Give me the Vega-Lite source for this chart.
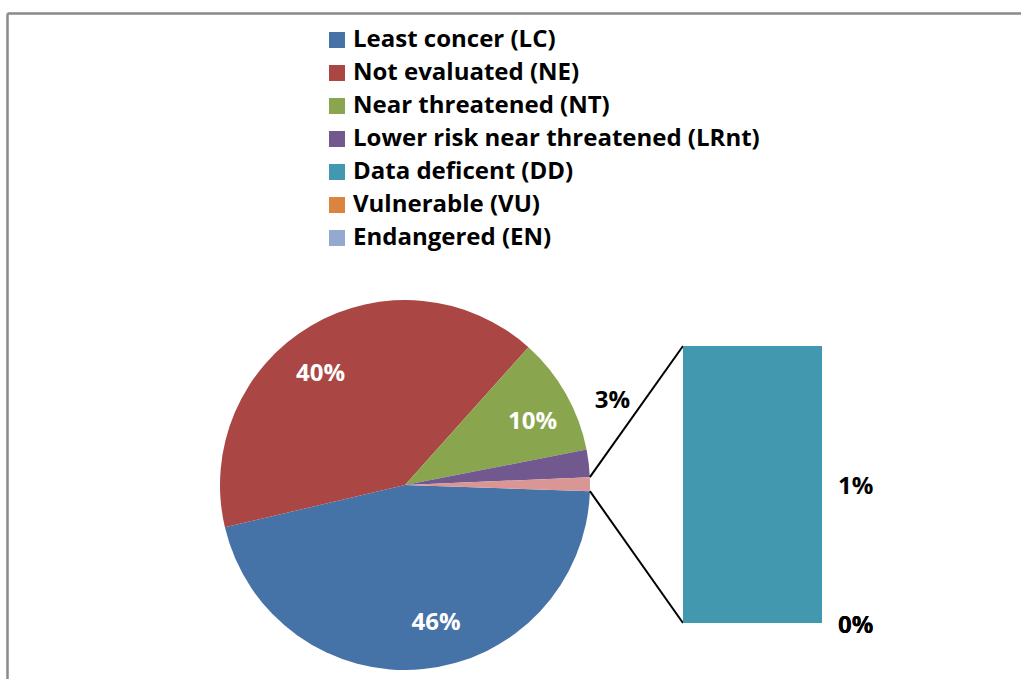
{
  "$schema": "https://vega.github.io/schema/vega-lite/v6.json",
  "width": 1014,
  "height": 666,
  "autosize": {"type": "none"},
  "padding": {"left": 7, "top": 13, "right": 0, "bottom": 0},
  "background": "white",
  "config": {
    "view": {"stroke": null},
    "font": "Open Sans",
    "legend": {"padding": 0}
  },
  "datasets": {
    "pie": [
      {"category": "Least concer (LC)", "value": 45.8, "idx": 1, "label": "46%"},
      {"category": "Not evaluated (NE)", "value": 40.3, "idx": 2, "label": "40%"},
      {"category": "Near threatened (NT)", "value": 10.3, "idx": 3, "label": "10%"},
      {"category": "Lower risk near threatened (LRnt)", "value": 2.4, "idx": 4, "label": "3%"},
      {"category": "Other", "value": 1.2, "idx": 5, "label": ""}
    ],
    "bar": [
      {"category": "Vulnerable (VU)", "value": 0, "idx": 1, "label": "0%"},
      {"category": "Endangered (EN)", "value": 0, "idx": 2, "label": "0%"},
      {"category": "Data deficent (DD)", "value": 1, "idx": 3, "label": "1%"}
    ]
  },
  "resolve": {"scale": {"x": "independent", "y": "independent"}},
  "layer": [
    {
      "data": {"name": "pie"},
      "layer": [
        {
          "mark": {"type": "arc", "radius": 185},
          "encoding": {
            "x": {"datum": 0, "type": "quantitative", "scale": {"domain": [-2.1514, 3.3297], "nice": false, "zero": false},
                  "axis": {"orient": "top", "labels": false, "ticks": false, "grid": false, "title": null, "domainColor": "#8a8a8a", "domainWidth": 2.5}},
            "y": {"datum": 0, "type": "quantitative", "scale": {"domain": [-1.0486, 2.5514], "nice": false, "zero": false},
                  "axis": {"orient": "left", "labels": false, "ticks": false, "grid": false, "title": null, "domainColor": "#8a8a8a", "domainWidth": 2.5}},
            "theta": {"field": "value", "type": "quantitative", "stack": true, "scale": {"range": [1.6040, 7.8872]}},
            "order": {"field": "idx", "type": "quantitative"},
            "color": {
              "field": "category", "type": "nominal",
              "scale": {
                "domain": ["Least concer (LC)", "Not evaluated (NE)", "Near threatened (NT)", "Lower risk near threatened (LRnt)", "Data deficent (DD)", "Vulnerable (VU)", "Endangered (EN)", "Other"],
                "range": ["#4572A7", "#AA4643", "#89A54E", "#71588F", "#4198AF", "#DB843D", "#93A9CF", "#D99694"]
              },
              "legend": {
                "values": ["Least concer (LC)", "Not evaluated (NE)", "Near threatened (NT)", "Lower risk near threatened (LRnt)", "Data deficent (DD)", "Vulnerable (VU)", "Endangered (EN)"],
                "orient": "none", "legendX": 318, "legendY": 15,
                "title": null,
                "symbolType": "square", "symbolSize": 256, "symbolStrokeWidth": 0, "symbolOpacity": 1,
                "labelFont": "Open Sans", "labelFontWeight": "bold", "labelFontSize": 24, "labelColor": "#000000",
                "labelLimit": 600, "labelOffset": 4, "rowPadding": 9
              }
            }
          }
        },
        {
          "mark": {"type": "text", "radius": 142, "dx": 17, "dy": -3, "font": "Open Sans", "fontWeight": "bold", "fontSize": 24, "fill": "white", "align": "center", "baseline": "middle"},
          "encoding": {
            "x": {"datum": 0, "type": "quantitative"},
            "y": {"datum": 0, "type": "quantitative"},
            "theta": {"field": "value", "type": "quantitative", "stack": true},
            "order": {"field": "idx", "type": "quantitative"},
            "detail": {"field": "category", "type": "nominal"},
            "text": {"condition": {"test": "datum.idx === 1", "field": "label"}, "value": ""}
          }
        },
        {
          "mark": {"type": "text", "radius": 142, "dx": -12, "dy": 11, "font": "Open Sans", "fontWeight": "bold", "fontSize": 24, "fill": "white", "align": "center", "baseline": "middle"},
          "encoding": {
            "x": {"datum": 0, "type": "quantitative"},
            "y": {"datum": 0, "type": "quantitative"},
            "theta": {"field": "value", "type": "quantitative", "stack": true},
            "order": {"field": "idx", "type": "quantitative"},
            "detail": {"field": "category", "type": "nominal"},
            "text": {"condition": {"test": "datum.idx === 2", "field": "label"}, "value": ""}
          }
        },
        {
          "mark": {"type": "text", "radius": 142, "dx": 4, "dy": 7, "font": "Open Sans", "fontWeight": "bold", "fontSize": 24, "fill": "white", "align": "center", "baseline": "middle"},
          "encoding": {
            "x": {"datum": 0, "type": "quantitative"},
            "y": {"datum": 0, "type": "quantitative"},
            "theta": {"field": "value", "type": "quantitative", "stack": true},
            "order": {"field": "idx", "type": "quantitative"},
            "detail": {"field": "category", "type": "nominal"},
            "text": {"condition": {"test": "datum.idx === 3", "field": "label"}, "value": ""}
          }
        },
        {
          "mark": {"type": "text", "radius": 215, "dx": -6, "dy": -59, "font": "Open Sans", "fontWeight": "bold", "fontSize": 24, "fill": "black", "align": "center", "baseline": "middle"},
          "encoding": {
            "x": {"datum": 0, "type": "quantitative"},
            "y": {"datum": 0, "type": "quantitative"},
            "theta": {"field": "value", "type": "quantitative", "stack": true},
            "order": {"field": "idx", "type": "quantitative"},
            "detail": {"field": "category", "type": "nominal"},
            "text": {"condition": {"test": "datum.idx === 4", "field": "label"}, "value": ""}
          }
        },
        {
          "data": {"values": [{"connector": "top"}]},
          "mark": {"type": "rule", "color": "black", "strokeWidth": 2},
          "encoding": {
            "x": {"datum": 0.9991, "type": "quantitative"},
            "y": {"datum": 0.0422, "type": "quantitative"},
            "x2": {"datum": 1.5027},
            "y2": {"datum": 0.7514}
          }
        },
        {
          "data": {"values": [{"connector": "bottom"}]},
          "mark": {"type": "rule", "color": "black", "strokeWidth": 2},
          "encoding": {
            "x": {"datum": 0.9994, "type": "quantitative"},
            "y": {"datum": -0.0332, "type": "quantitative"},
            "x2": {"datum": 1.5027},
            "y2": {"datum": -0.7459}
          }
        }
      ]
    },
    {
      "data": {"name": "bar"},
      "layer": [
        {
          "transform": [
            {"stack": "value", "groupby": [], "sort": [{"field": "idx", "order": "ascending"}], "as": ["v0", "v1"]}
          ],
          "mark": {"type": "bar"},
          "encoding": {
            "x": {"datum": 1.5027, "type": "quantitative", "scale": {"domain": [-2.1514, 3.3297], "nice": false, "zero": false}, "axis": null},
            "x2": {"datum": 2.2541},
            "y": {"field": "v0", "type": "quantitative", "scale": {"domain": [-0.2022, 2.2022], "nice": false, "zero": false}, "axis": null},
            "y2": {"field": "v1"},
            "color": {"field": "category", "type": "nominal"}
          }
        },
        {
          "mark": {"type": "text", "dx": 16, "dy": 3, "font": "Open Sans", "fontWeight": "bold", "fontSize": 24, "fill": "black", "align": "left", "baseline": "middle"},
          "encoding": {
            "x": {"datum": 2.2541, "type": "quantitative"},
            "y": {"field": "value", "type": "quantitative", "stack": true, "bandPosition": 0.5},
            "order": {"field": "idx", "type": "quantitative"},
            "detail": {"field": "category", "type": "nominal"},
            "text": {"field": "label", "type": "nominal"}
          }
        }
      ]
    }
  ]
}
